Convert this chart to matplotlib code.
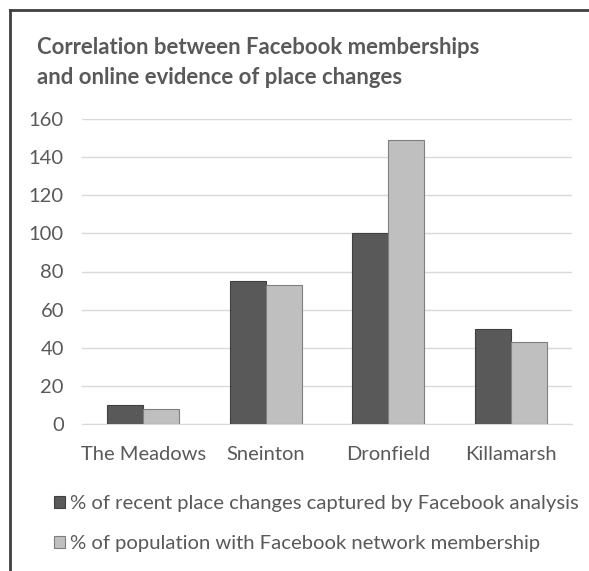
import matplotlib
matplotlib.use("Agg")
import matplotlib.pyplot as plt
import numpy as np
from matplotlib.lines import Line2D
from matplotlib.patches import Patch

categories = ["The Meadows", "Sneinton", "Dronfield", "Killamarsh"]
series_names = ["% of recent place changes captured by Facebook analysis",
                "% of population with Facebook network membership"]
captured = [10, 75, 100, 50]
population = [8, 73, 149, 43]
yticks = [0, 20, 40, 60, 80, 100, 120, 140, 160]

plt.rcParams['font.family'] = ['Lato', 'DejaVu Sans']
txt = '#595959'

fig = plt.figure(figsize=(5.89, 5.71), dpi=100)
ax = fig.add_axes([82/589, 1-424/571, 490/589, 305/571])

x = np.arange(len(categories))
w = 0.295
ax.bar(x - w/2, captured, width=w, color='#595959', edgecolor='#404040', linewidth=0.8, zorder=3)
ax.bar(x + w/2, population, width=w, color='#BFBFBF', edgecolor='#7F7F7F', linewidth=0.8, zorder=3)

ax.set_ylim(0, 160)
ax.set_xlim(-0.5, 3.5)
ax.set_yticks(yticks)
ax.set_xticks(x)
ax.set_xticklabels(categories)
ax.yaxis.grid(True, color='#D9D9D9', linewidth=1)
ax.set_axisbelow(True)
for s in ['top', 'right', 'left']:
    ax.spines[s].set_visible(False)
ax.spines['bottom'].set_color('#D9D9D9')
ax.tick_params(axis='both', length=0, colors=txt, labelsize=14.5)
ax.tick_params(axis='y', pad=13)
ax.tick_params(axis='x', pad=16)

fig.text(37/589, 1-47/571, "Correlation between Facebook memberships", fontsize=15.9,
         fontweight='bold', color=txt, va='center', ha='left')
fig.text(37/589, 1-77/571, "and online evidence of place changes", fontsize=15.9,
         fontweight='bold', color=txt, va='center', ha='left')

handles = [Patch(facecolor='#595959', edgecolor='#404040', linewidth=0.8),
           Patch(facecolor='#BFBFBF', edgecolor='#7F7F7F', linewidth=0.8)]
leg = fig.legend(handles, series_names, loc='upper left', bbox_to_anchor=(54/589, 1-495/571),
                 frameon=False, fontsize=14.6, labelcolor=txt, handlelength=0.55, handleheight=0.55,
                 handletextpad=0.25, labelspacing=1.15, borderaxespad=0, borderpad=0)

# outer frame (top and left edges)
fig.add_artist(Line2D([10/589, 10/589], [0, 1-10/571], transform=fig.transFigure,
                      color='#404040', linewidth=2))
fig.add_artist(Line2D([10/589, 1], [1-10/571, 1-10/571], transform=fig.transFigure,
                      color='#404040', linewidth=2))

fig.savefig("out.png", dpi=100, facecolor='white')
